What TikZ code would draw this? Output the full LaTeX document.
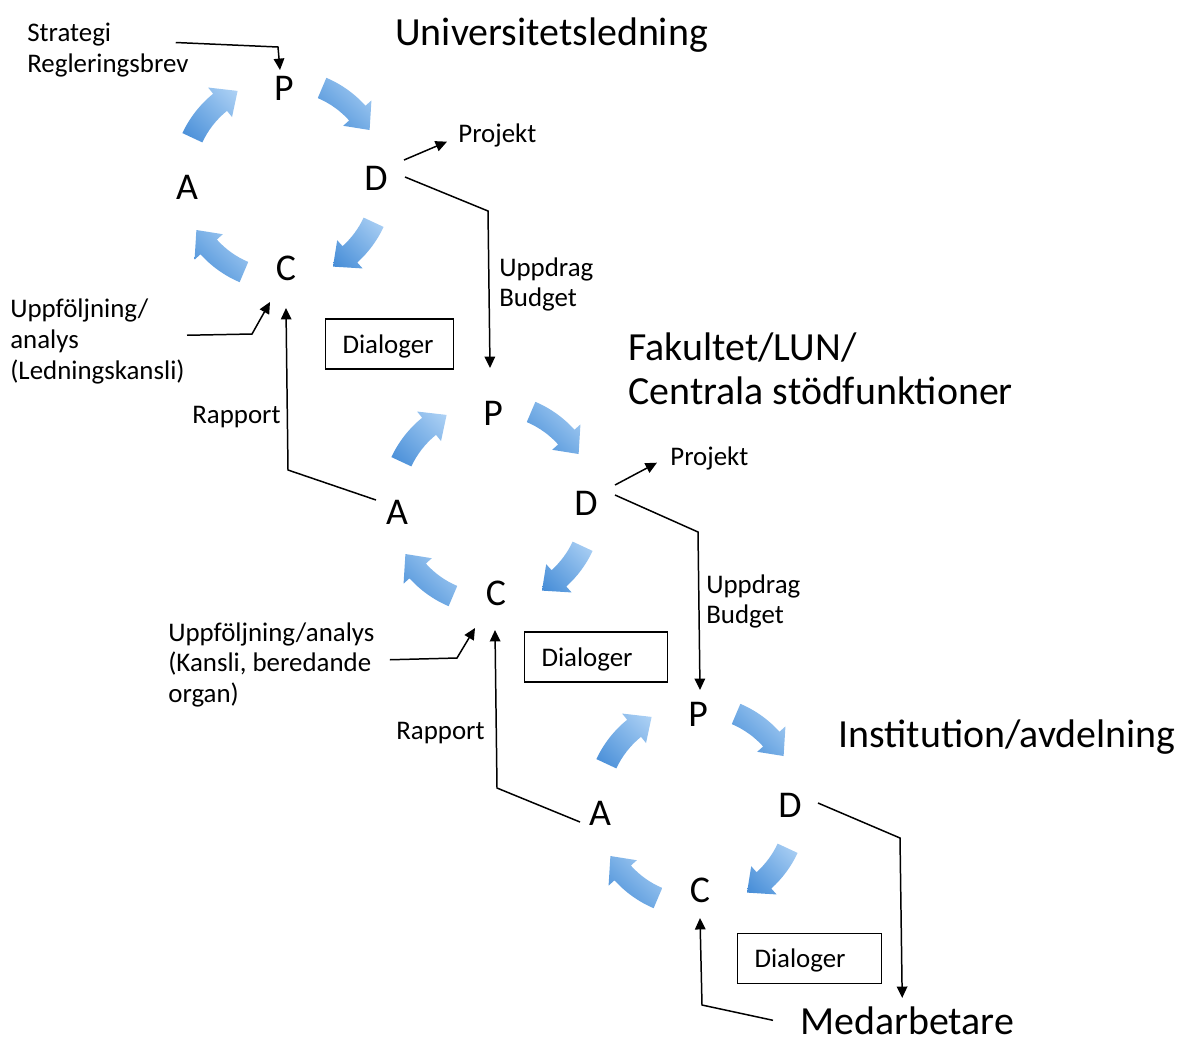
\documentclass[tikz,border=0pt]{standalone}
\usepackage{fontspec}
\setmainfont{Carlito}
\usetikzlibrary{positioning, calc, arrows.meta, shadings}

\definecolor{pdcalight}{RGB}{178,212,246}
\definecolor{pdcamid}{RGB}{120,175,230}
\definecolor{pdcadark}{RGB}{66,138,214}

\newcommand{\smalltxt}{\fontsize{15.3}{17.5}\selectfont}
\newcommand{\bigtxt}{\fontsize{22.7}{25.5}\selectfont}

% curved blue arrow of a cycle, clockwise from #2 to #3 around #1
\newcommand{\pdcaarrow}[3]{%
	\shade[cyclearrow] ($(#1)+(#2:111)$) arc[start angle=#2, end angle=#3+12, radius=111]
		-- ($(#1)+(#3+12:119)$) -- ($(#1)+(#3:100)$) -- ($(#1)+(#3+12:81)$)
		-- ($(#1)+(#3+12:89)$) arc[start angle=#3+12, end angle=#2, radius=89] -- cycle;}

\begin{document}
\begin{tikzpicture}[x=0.02cm, y=0.02cm,
	letter/.style={font=\fontsize{21.5}{25}\selectfont, inner sep=0pt},
	label/.style={font=\smalltxt, inner sep=0pt, align=left},
	title/.style={font=\bigtxt, inner sep=0pt, align=left},
	dialog/.style={draw, line width=1.1pt, font=\smalltxt, align=left, inner xsep=0.34cm, text depth=0pt, minimum height=1cm},
	link/.style={line width=0.85pt, -{Triangle[length=6.5pt, width=6pt]}},
	cyclearrow/.style={upper right=pdcalight, lower left=pdcadark, upper left=pdcamid, lower right=pdcamid}]
	\useasboundingbox (0,0) rectangle (1189,-1039);

	% Universitetsledning
	\coordinate (cen1) at (283,-180);
	\node (p1) [letter] at (284,-88) {P};
	\node (d1) [letter] at (376,-178) {D};
	\node (c1) [letter] at (286,-268) {C};
	\node (a1) [letter] at (187,-187) {A};
	\foreach \s/\e in {155/117, 67/30, -25/-60, -113/-150} {\pdcaarrow{cen1}{\s}{\e}}

	\node (univ) [title, anchor=base west] at (395,-45) {Universitetsledning};
	\node (strat) [label, anchor=north west] at (27,-22.5) {Strategi\\Regleringsbrev};
	\node (proj1) [label, anchor=base west] at (458,-142.7) {Projekt};
	\node (upp1) [label, anchor=north west] at (499,-257) {Uppdrag\\Budget};
	\node (dial1) [dialog, text width=1.88cm] at (389.5,-344) {Dialoger};
	\node (uf1) [label, anchor=north west] at (10,-298.5) {Uppföljning/\\analys\\(Ledningskansli)};
	\node (rap1) [label, anchor=base west] at (192,-423.7) {Rapport};

	% Fakultet/LUN
	\coordinate (cen2) at (492,-504);
	\node (p2) [letter] at (493,-413) {P};
	\node (d2) [letter] at (586,-503) {D};
	\node (c2) [letter] at (496,-593) {C};
	\node (a2) [letter] at (397,-512) {A};
	\foreach \s/\e in {155/117, 67/30, -25/-60, -113/-150} {\pdcaarrow{cen2}{\s}{\e}}

	\node (fak) [title, anchor=north west] at (628,-332) {Fakultet/LUN/\\Centrala stödfunktioner};
	\node (proj2) [label, anchor=base west] at (670,-465.7) {Projekt};
	\node (upp2) [label, anchor=north west] at (706,-574) {Uppdrag\\Budget};
	\node (dial2) [dialog, text width=2.18cm] at (596,-657) {Dialoger};
	\node (uf2) [label, anchor=north west] at (168,-622) {Uppföljning/analys\\(Kansli, beredande\\organ)};
	\node (rap2) [label, anchor=base west] at (396,-739.7) {Rapport};

	% Institution
	\coordinate (cen3) at (697,-806);
	\node (p3) [letter] at (698,-714) {P};
	\node (d3) [letter] at (790,-805) {D};
	\node (c3) [letter] at (700,-890) {C};
	\node (a3) [letter] at (600,-813) {A};
	\foreach \s/\e in {155/117, 67/30, -25/-60, -113/-150} {\pdcaarrow{cen3}{\s}{\e}}

	\node (inst) [title, anchor=base west] at (838,-747) {Institution/avdelning};
	\node (dial3) [dialog, text width=2.2cm] at (809.5,-958.5) {Dialoger};
	\node (medarb) [title, anchor=base west] at (800,-1034) {Medarbetare};

	% connectors
	\draw [link] ($(strat.north east)+(-13,-20)$) -- ($(p1)+(-6,41)$) -- ($(p1)+(-4,18)$);
	\draw [link] ($(d1)+(28,18)$) -- ($(proj1.west)+(-11,-6)$);
	\draw [link] ($(d1)+(29,1)$) -- ($(d1)+(112,-33)$) -- ($(p2)+(-3,45)$);
	\draw [link] ($(uf1.east)+(2,6)$) -- ($(c1)+(-34,-66)$) -- ($(c1)+(-16,-34)$);
	\draw [link] ($(a2)+(-21,12)$) -- ($(a2)+(-109,42)$) -- ($(c1)+(0,-40)$);

	\draw [link] ($(d2)+(29,18)$) -- ($(proj2.west)+(-13,-4)$);
	\draw [link] ($(d2)+(29,8)$) -- ($(d2)+(112,-29)$) -- ($(p3)+(2,24)$);
	\draw [link] ($(uf2.east)+(15,5)$) -- ($(c2)+(-39,-65)$) -- ($(c2)+(-21,-35)$);
	\draw [link] ($(a3)+(-20,-9)$) -- ($(a3)+(-103,25)$) -- ($(c2)+(-1,-37)$);

	\draw [link] ($(d3)+(28,2)$) -- ($(d3)+(110,-33)$) -- ($(medarb.north)+(-5,8)$);
	\draw [link] ($(medarb.west)+(-27,0)$) -- ($(c3)+(2,-115)$) -- ($(c3)+(0,-28)$);
\end{tikzpicture}
\end{document}
